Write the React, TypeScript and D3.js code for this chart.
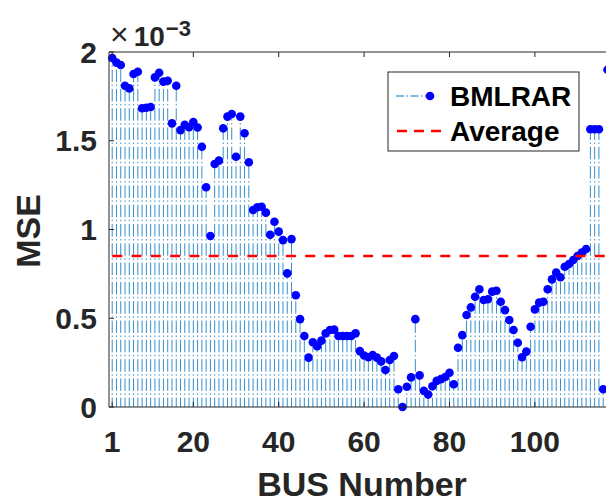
import React from 'react';
import * as d3 from 'd3';

// Bus numbers (IEEE 118-bus)
const BUS: number[] = d3.range(1, 119);
// MSE values in units of 1e-3
const MSE: number[] = [
  1.966, 1.94, 1.927, 1.81, 1.795, 1.876, 1.889, 1.683, 1.686, 1.69,
  1.857, 1.883, 1.833, 1.838, 1.598, 1.81, 1.56, 1.59, 1.576, 1.605,
  1.575, 1.466, 1.238, 0.963, 1.369, 1.388, 1.57, 1.636, 1.651, 1.41,
  1.636, 1.542, 1.379, 1.11, 1.125, 1.128, 1.095, 0.97, 1.044, 0.988,
  0.94, 0.753, 0.946, 0.63, 0.495, 0.4, 0.278, 0.365, 0.342, 0.374,
  0.415, 0.434, 0.436, 0.4, 0.4, 0.4, 0.4, 0.415, 0.315, 0.29,
  0.28, 0.293, 0.278, 0.257, 0.208, 0.265, 0.287, 0.1, 0.0, 0.114,
  0.167, 0.495, 0.178, 0.091, 0.07, 0.117, 0.147, 0.157, 0.169, 0.193,
  0.128, 0.334, 0.405, 0.518, 0.561, 0.621, 0.663, 0.603, 0.607, 0.65,
  0.655, 0.593, 0.546, 0.49, 0.434, 0.362, 0.28, 0.312, 0.452, 0.55,
  0.588, 0.593, 0.663, 0.719, 0.757, 0.731, 0.79, 0.806, 0.828, 0.851,
  0.87, 0.89, 1.565, 1.565, 1.565, 0.1, 1.9, 1.0,
];
const AVERAGE = 0.851;
const X_TICKS = [1, 20, 40, 60, 80, 100];
const Y_TICKS = [0, 0.5, 1, 1.5, 2];
const SERIES_NAME = 'BMLRAR';
const AVG_NAME = 'Average';
const X_LABEL = 'BUS Number';
const Y_LABEL = 'MSE';

const FONT = "'Liberation Sans', Arial, Helvetica, sans-serif";
const AXIS = '#262626';
const STEM = '#0072BD';
const MARK = '#0000FF';

export default function App() {
  const W = 606;
  const H = 503;
  const x = d3.scaleLinear().domain([0.25, 119]).range([109, 616]);
  const y = d3.scaleLinear().domain([0, 2]).range([407, 52]);
  const [x0, x1] = x.range();
  const [yb, yt] = y.range();

  return (
    <svg
      width={W}
      height={H}
      viewBox={`0 0 ${W} ${H}`}
      style={{ position: 'absolute', left: 0, top: 0, background: '#fff' }}
      fontFamily={FONT}
    >
      <rect x={0} y={0} width={W} height={H} fill="#fff" />
      {/* stems */}
      <g>
        {BUS.map((b, i) => (
          <line
            key={`s${b}`}
            x1={x(b)}
            x2={x(b)}
            y1={y(0)}
            y2={y(MSE[i])}
            stroke={STEM}
            strokeWidth={0.8}
            strokeDasharray="12.5,2.8,1.5,2.5"
            strokeDashoffset={3.2}
          />
        ))}
      </g>
      {/* markers */}
      <g>
        {BUS.map((b, i) => (
          <circle key={`m${b}`} cx={x(b)} cy={y(MSE[i])} r={4.3} fill={MARK} />
        ))}
      </g>
      {/* average line */}
      <line
        x1={x(1)}
        x2={x(119)}
        y1={y(AVERAGE)}
        y2={y(AVERAGE)}
        stroke="#FF0000"
        strokeWidth={2.5}
        strokeDasharray="10,9.3"
      />
      {/* axes box */}
      <line x1={x0} x2={x0} y1={yt} y2={yb} stroke={AXIS} strokeWidth={1} />
      <line x1={x0} x2={x1} y1={yb} y2={yb} stroke={AXIS} strokeWidth={1} />
      <line x1={x0} x2={x1} y1={yt} y2={yt} stroke={AXIS} strokeWidth={1} />
      {/* x ticks */}
      {X_TICKS.map((t) => (
        <g key={`xt${t}`}>
          <line x1={x(t)} x2={x(t)} y1={yb} y2={yb - 5} stroke={AXIS} strokeWidth={1} />
          <line x1={x(t)} x2={x(t)} y1={yt} y2={yt + 5} stroke={AXIS} strokeWidth={1} />
          <text
            x={x(t)}
            y={452}
            textAnchor="middle"
            fontSize={30}
            fontWeight="bold"
            fill={AXIS}
          >
            {t}
          </text>
        </g>
      ))}
      {/* y ticks */}
      {Y_TICKS.map((t) => (
        <g key={`yt${t}`}>
          <line x1={x0} x2={x0 + 5} y1={y(t)} y2={y(t)} stroke={AXIS} strokeWidth={1} />
          <text
            x={97}
            y={y(t) + 10.7}
            textAnchor="end"
            fontSize={30}
            fontWeight="bold"
            fill={AXIS}
          >
            {t}
          </text>
        </g>
      ))}
      {/* exponent */}
      <text x={110} y={46} fill={AXIS} fontSize={28}>
        <tspan fontSize={32} dy={-1}>×</tspan>
        <tspan fontWeight="bold" dx={5} dy={1}>10</tspan>
        <tspan fontWeight="bold" fontSize={22} dy={-10} dx={1}>−3</tspan>
      </text>
      {/* axis labels */}
      <text
        x={362}
        y={496}
        textAnchor="middle"
        fontSize={34}
        fontWeight="bold"
        fill={AXIS}
      >
        {X_LABEL}
      </text>
      <text
        transform="translate(40,231) rotate(-90)"
        textAnchor="middle"
        fontSize={34}
        fontWeight="bold"
        fill={AXIS}
      >
        {Y_LABEL}
      </text>
      {/* legend */}
      <g>
        <rect x={388} y={72} width={191} height={79} fill="#fff" stroke={AXIS} strokeWidth={1} />
        <line
          x1={396}
          x2={430}
          y1={96}
          y2={96}
          stroke={STEM}
          strokeWidth={1}
          strokeDasharray="8,2.5,1.5,2.5"
        />
        <circle cx={430} cy={96} r={4.3} fill={MARK} />
        <text x={450} y={106} fontSize={28} fontWeight="bold" fill="#000">
          {SERIES_NAME}
        </text>
        <line
          x1={397}
          x2={441}
          y1={131}
          y2={131}
          stroke="#FF0000"
          strokeWidth={2.5}
          strokeDasharray="10,7"
        />
        <text x={450} y={141} fontSize={28} fontWeight="bold" fill="#000">
          {AVG_NAME}
        </text>
      </g>
    </svg>
  );
}
